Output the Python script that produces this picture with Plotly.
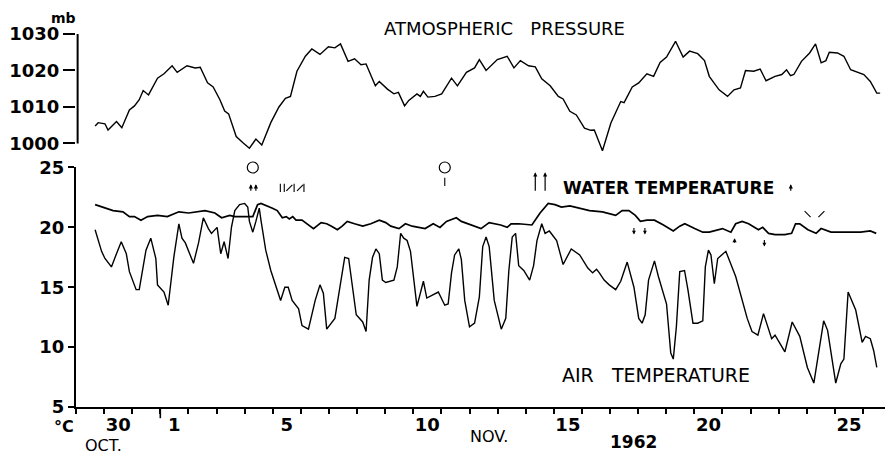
import plotly.graph_objects as go

# ---- data (x = days since 29 Oct 1962 00:00) ----
air_days = [0.68,0.91,1.03,1.26,1.44,1.61,1.79,1.90,2.14,2.25,
            2.49,2.66,2.84,2.90,3.13,3.28,3.48,3.66,3.77,3.89,
            4.18,4.36,4.53,4.71,4.82,5.02,5.15,5.27,5.41,5.53,
            5.65,5.82,6.00,6.11,6.17,6.29,6.40,6.52,6.58,6.75,
            6.93,7.10,7.28,7.43,7.55,7.69,7.92,8.04,8.27,8.51,
            8.68,8.80,8.92,9.21,9.44,9.56,9.70,9.85,9.97,10.20,
            10.32,10.43,10.55,10.67,10.79,10.90,11.02,11.31,11.43,11.55,
            11.66,11.78,11.90,12.13,12.36,12.48,12.89,13.12,13.24,13.36,
            13.47,13.62,13.71,13.83,14.00,14.18,14.35,14.47,14.59,14.70,
            14.88,15.13,15.29,15.40,15.52,15.64,15.75,15.93,16.14,16.28,
            16.40,16.57,16.69,16.84,17.10,17.33,17.62,17.92,18.21,18.38,
            18.52,18.62,18.79,18.97,19.20,19.38,19.61,19.85,20.02,20.14,
            20.25,20.37,20.58,20.72,21.01,21.16,21.25,21.36,21.48,21.65,
            21.77,21.95,22.12,22.30,22.39,22.50,22.59,22.71,22.83,23.12,
            23.47,23.88,24.05,24.26,24.46,24.75,24.87,25.22,25.48,25.75,
            26.02,26.25,26.39,26.60,26.74,26.95,27.03,27.21,27.32,27.47,
            27.74,27.97,28.09,28.26,28.38,28.49]
air_temp = [19.8,18.0,17.4,16.7,17.8,18.8,17.8,16.3,14.8,14.8,
            18.1,19.1,17.4,15.2,14.6,13.5,17.5,20.3,19.1,18.7,
            17.0,18.7,20.8,19.9,19.5,20.0,17.8,18.8,17.4,20.0,
            21.4,21.9,22.0,21.7,20.5,19.6,20.5,21.6,20.6,18.1,
            16.4,15.2,13.9,15.0,15.0,13.9,13.2,11.8,11.5,13.9,
            15.2,14.5,11.5,12.4,16.0,17.5,17.4,14.9,12.7,12.1,
            11.3,15.6,17.5,18.2,17.8,15.6,15.4,15.6,16.7,19.5,
            19.1,18.9,18.0,13.4,15.5,14.1,14.6,13.5,13.6,16.2,
            17.7,18.2,17.3,13.9,11.7,12.0,14.2,18.4,19.2,18.4,
            13.9,11.5,12.4,16.4,19.2,19.5,16.8,16.4,15.6,16.8,
            18.9,20.3,19.5,19.7,18.9,16.9,18.2,17.7,16.6,16.2,
            16.5,16.2,15.6,15.2,14.8,15.5,17.1,15.0,12.4,12.0,
            12.7,15.6,17.2,15.9,13.6,9.5,9.0,11.7,16.3,16.4,
            14.8,12.0,12.0,12.2,16.7,18.1,17.7,15.3,17.4,18.0,
            15.9,12.4,11.3,11.0,12.8,10.7,11.0,9.6,12.1,10.9,
            8.3,7.0,9.2,12.2,11.4,8.3,7.0,8.6,9.0,14.6,
            13.1,10.4,10.9,10.7,9.7,8.3]

water_days = [0.68,0.97,1.32,1.67,1.90,2.08,2.31,2.55,2.90,3.25,
              3.66,4.01,4.24,4.59,4.94,5.18,5.47,5.65,6.29,6.46,
              6.58,6.81,6.99,7.16,7.34,7.48,7.59,7.71,7.83,8.04,
              8.27,8.45,8.72,8.92,9.09,9.30,9.47,9.65,9.91,10.20,
              10.49,10.79,11.02,11.20,11.49,11.72,11.96,12.19,12.42,12.71,
              12.95,13.18,13.53,13.71,13.94,14.18,14.41,14.70,14.88,15.11,
              15.34,15.48,15.75,16.22,16.51,16.80,17.04,17.27,17.57,17.92,
              18.27,18.73,19.20,19.43,19.67,19.90,20.08,20.31,20.58,20.90,
              21.25,21.48,21.66,22.01,22.30,22.53,23.00,23.30,23.47,23.70,
              23.93,24.28,24.43,24.64,24.87,25.22,25.46,25.60,25.75,26.04,
              26.33,26.51,26.86,27.21,27.56,27.91,28.26,28.47]
water_temp = [21.9,21.7,21.4,21.3,20.9,20.9,20.6,20.9,21.0,20.9,
              21.3,21.2,21.3,21.4,21.2,20.8,21.0,20.9,20.9,21.9,
              22.0,21.8,21.6,21.4,20.8,20.9,20.7,20.9,20.6,20.6,
              20.2,19.9,20.4,20.3,20.1,19.8,20.1,20.5,20.3,20.1,
              20.3,20.6,20.4,20.1,19.9,20.3,20.1,20.0,19.9,20.3,
              20.0,20.5,20.8,20.5,20.3,20.1,19.9,20.4,20.3,20.2,
              20.0,20.3,20.3,20.2,21.2,22.0,21.9,21.7,21.8,21.6,
              21.4,21.3,21.0,21.4,21.4,21.0,20.5,20.6,20.6,20.2,
              19.7,20.1,20.3,19.9,19.6,19.6,19.9,19.6,20.3,20.5,
              20.3,19.8,20.0,19.5,19.4,19.4,19.5,20.3,20.3,19.8,
              19.5,19.9,19.6,19.6,19.6,19.6,19.7,19.5]

pres_days = [0.68,0.79,1.03,1.14,1.44,1.63,1.90,2.08,2.25,2.39,
             2.58,2.90,3.13,3.42,3.60,3.95,4.24,4.42,4.68,4.88,
             5.12,5.29,5.43,5.70,5.94,6.17,6.40,6.61,6.93,7.22,
             7.45,7.63,7.86,8.16,8.39,8.68,8.98,9.21,9.41,9.68,
             9.91,10.14,10.32,10.65,10.79,11.08,11.31,11.47,11.69,11.84,
             12.13,12.25,12.36,12.52,12.77,13.01,13.36,13.57,13.89,14.18,
             14.35,14.59,14.99,15.34,15.58,15.81,16.10,16.34,16.57,16.87,
             17.16,17.33,17.57,17.80,18.09,18.31,18.44,18.73,19.03,19.38,
             19.50,19.79,20.02,20.31,20.55,20.78,21.01,21.33,21.60,21.83,
             22.12,22.36,22.53,22.88,23.18,23.41,23.64,23.82,24.11,24.34,
             24.55,24.87,25.11,25.28,25.42,25.54,25.81,26.10,26.31,26.51,
             26.68,26.80,27.09,27.32,27.56,27.73,28.03,28.26,28.49,28.61]
pres_mb = [1004.8,1005.7,1005.4,1003.7,1006.0,1004.3,1009.2,1010.3,1012.0,1014.5,
           1013.3,1017.9,1019.1,1021.3,1019.5,1021.3,1020.7,1020.9,1016.6,1015.5,
           1012.0,1008.9,1008.1,1001.9,1000.2,998.7,1001.2,999.6,1005.7,1010.0,
           1012.4,1012.9,1019.8,1023.9,1025.9,1024.4,1026.5,1026.2,1027.3,1022.5,
           1023.2,1021.6,1021.8,1015.8,1017.0,1014.9,1013.6,1014.0,1010.3,1011.8,
           1013.6,1012.9,1014.3,1012.7,1012.9,1013.6,1017.9,1015.8,1019.5,1020.7,
           1023.0,1020.0,1023.0,1023.9,1020.7,1022.7,1021.3,1021.0,1017.7,1015.8,
           1012.9,1012.2,1008.8,1007.8,1004.2,1003.6,1003.7,998.0,1005.6,1011.5,
           1011.2,1015.5,1016.6,1019.1,1018.4,1022.2,1023.7,1028.0,1023.7,1025.3,
           1024.6,1022.7,1018.4,1014.7,1012.9,1014.7,1015.2,1020.0,1019.8,1020.4,
           1017.2,1018.4,1018.9,1020.2,1018.6,1018.9,1022.5,1024.8,1027.3,1022.1,
           1022.7,1025.0,1024.8,1023.9,1020.2,1019.8,1018.9,1017.0,1013.8,1013.8]

# event symbols
circle_days = [6.29, 13.12, 16.34, 16.69, 25.46, 25.61]
circle_level = [25.0, 25.0, 25.5, 25.5, 25.1, 25.1]
up_days = [6.22, 6.40, 16.34, 16.69, 25.43, 23.43]
up_tip = [23.6, 23.6, 24.6, 24.6, 23.6, 19.1]
up_len = [8, 8, 20, 20, 8, 6]
down_days = [19.85, 20.24, 24.49]
down_tip = [19.4, 19.4, 18.4]
mark_days = [13.12, 7.27, 7.41, 7.59, 7.76, 7.97, 8.11, 26.03, 26.52]
mark_level = [23.8, 23.3, 23.3, 23.3, 23.3, 23.3, 23.3, 21.1, 21.1]
mark_symbol = ["line-ns", "line-ns", "line-ns", "line-ne", "line-ns", "line-ne", "line-ns",
               "line-nw", "line-ne"]

x_tick_pos = [1.5, 3.5, 7.5, 12.5, 17.5, 22.5, 27.5]
x_tick_text = ["30", "1", "5", "10", "15", "20", "25"]
t_ticks = [5, 10, 15, 20, 25]
p_ticks = [1000, 1010, 1020, 1030]

FONT = "DejaVu Sans"
BLK = "black"
NB = "\u00a0"

fig = go.Figure()
fig.add_trace(go.Scatter(x=pres_days, y=pres_mb, mode="lines", yaxis="y2",
                         line=dict(color=BLK, width=1.4), showlegend=False))
fig.add_trace(go.Scatter(x=water_days, y=water_temp, mode="lines",
                         line=dict(color=BLK, width=1.7), showlegend=False))
fig.add_trace(go.Scatter(x=air_days, y=air_temp, mode="lines",
                         line=dict(color=BLK, width=1.4), showlegend=False))
fig.add_trace(go.Scatter(x=circle_days, y=circle_level, mode="markers", cliponaxis=False,
                         marker=dict(symbol="circle-open", size=11, color=BLK,
                                     line=dict(width=1.2, color=BLK)), showlegend=False))
fig.add_trace(go.Scatter(x=mark_days, y=mark_level, mode="markers", cliponaxis=False,
                         marker=dict(symbol=mark_symbol, size=6, color=BLK,
                                     line=dict(width=1.1, color=BLK)), showlegend=False))

anns = []
for d, tip, ln in zip(up_days, up_tip, up_len):
    anns.append(dict(x=d, y=tip, xref="x", yref="y", ax=0, ay=ln, text="",
                     showarrow=True, arrowhead=2, arrowsize=0.7, arrowwidth=1.2,
                     arrowcolor=BLK))
for d, tip in zip(down_days, down_tip):
    anns.append(dict(x=d, y=tip, xref="x", yref="y", ax=0, ay=-8, text="",
                     showarrow=True, arrowhead=2, arrowsize=0.7, arrowwidth=1.1,
                     arrowcolor=BLK))

def lab(text, x, y, size=17, bold=False, yanchor="middle"):
    anns.append(dict(text=text, x=x, y=y, xref="paper", yref="paper", showarrow=False,
                     xanchor="center", yanchor=yanchor,
                     font=dict(family=FONT, size=size, color=BLK,
                               weight="bold" if bold else "normal")))

lab("mb", -0.0157, 1.0697, size=14, bold=True, yanchor="top")
lab("ATMOSPHERIC" + NB * 3 + "PRESSURE", 0.527, 1.016, size=18)
lab("WATER TEMPERATURE", 0.7276, 0.587, size=17, bold=True)
lab("AIR" + NB * 3 + "TEMPERATURE", 0.7125, 0.0858, size=19)
lab("°C", -0.0145, -0.0536, size=16, bold=True)
lab("OCT.", 0.0339, -0.1019, size=16)
lab("NOV.", 0.5073, -0.0804, size=16)
lab("1962", 0.6852, -0.0938, size=17, bold=True)

shapes = [
    # longer month-boundary tick at 1 Nov
    dict(type="line", xref="x", yref="paper", x0=3, x1=3, y0=0, y1=-0.03,
         line=dict(color=BLK, width=1.6)),
    # pressure axis line and right bracket
    dict(type="line", xref="paper", yref="y2", x0=0.002, x1=0.002, y0=1000, y1=1030,
         line=dict(color=BLK, width=2)),
    dict(type="line", xref="paper", yref="y2", x0=1, x1=1, y0=1000, y1=1030,
         line=dict(color=BLK, width=2)),
]

# the page body adds an 8 px margin, so the figure is 8 px smaller on each axis
fig.update_layout(
    width=885, height=451,
    margin=dict(l=58, r=1, t=26, b=52),
    paper_bgcolor="white", plot_bgcolor="white",
    font=dict(family=FONT, color=BLK),
    showlegend=False,
    annotations=anns, shapes=shapes,
    xaxis=dict(range=[0, 28.96], anchor="y", showline=True, linewidth=2, linecolor=BLK,
               showgrid=False, zeroline=False,
               tickmode="array", tickvals=x_tick_pos, ticktext=x_tick_text,
               ticks="", tickfont=dict(family=FONT, size=18, color=BLK, weight="bold"),
               minor=dict(tick0=0, dtick=1, ticks="outside", ticklen=5, tickwidth=1.5,
                          tickcolor=BLK, showgrid=False)),
    yaxis=dict(domain=[0, 0.6421], range=[5, 25], showline=True, linewidth=2, linecolor=BLK,
               mirror=True, showgrid=False, zeroline=False,
               tickmode="array", tickvals=t_ticks, ticks="outside", ticklen=6, tickwidth=2,
               tickcolor=BLK, tickfont=dict(family=FONT, size=18, color=BLK, weight="bold")),
    yaxis2=dict(domain=[0.6772, 1.0], range=[997, 1030], anchor="x", showline=False,
                showgrid=False, zeroline=False,
                tickmode="array", tickvals=p_ticks, ticks="outside", ticklen=12, tickwidth=2,
                tickcolor=BLK, tickfont=dict(family=FONT, size=18, color=BLK, weight="bold")),
)

fig.write_html("out.html")
